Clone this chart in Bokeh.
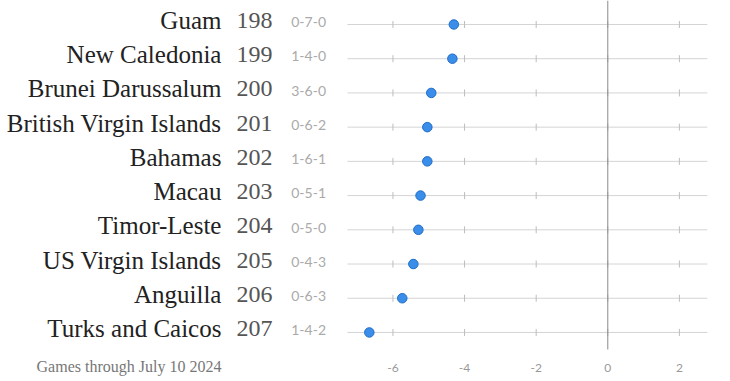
from bokeh.plotting import figure
from bokeh.models import Range1d
from bokeh.core.properties import value
from bokeh.embed import file_html
from bokeh.resources import INLINE

names = ["Guam", "New Caledonia", "Brunei Darussalum", "British Virgin Islands",
         "Bahamas", "Macau", "Timor-Leste", "US Virgin Islands", "Anguilla",
         "Turks and Caicos"]
ranks = [198, 199, 200, 201, 202, 203, 204, 205, 206, 207]
records = ["0-7-0", "1-4-0", "3-6-0", "0-6-2", "1-6-1", "0-5-1", "0-5-0",
           "0-4-3", "0-6-3", "1-4-2"]
ratings = [-4.30, -4.34, -4.93, -5.04, -5.04, -5.23, -5.29, -5.43, -5.74, -6.66]
ticks = [-6, -4, -2, 0, 2]
tick_labels = ["-6", "-4", "-2", "0", "2"]
footer = "Games through July 10 2024"

PX_X = 35.8   # px per unit along x
PX_Y = 34.22  # px per row

rows = list(range(len(names)))
n = len(rows)

p = figure(frame_width=730, frame_height=381, output_backend="svg",
           toolbar_location=None, y_axis_location=None, x_axis_location=None,
           min_border_left=0, min_border_right=0, min_border_top=0,
           min_border_bottom=0)
p.x_range = Range1d(-16.96, 3.427)
p.y_range = Range1d(10.433, -0.701)
p.outline_line_color = None
p.xgrid.visible = False
p.ygrid.visible = False
p.background_fill_color = "white"

line_x0, line_x1 = -7.27, 2.78

# row lines
p.segment(x0=[line_x0] * n, x1=[line_x1] * n, y0=rows, y1=rows,
          line_color="#d4d4d4", line_width=1)

# small ticks on every row
tx, ty0, ty1 = [], [], []
for r in rows:
    for t in ticks:
        tx.append(t)
        ty0.append(r - 3.5 / PX_Y)
        ty1.append(r + 3.5 / PX_Y)
p.segment(x0=tx, x1=tx, y0=ty0, y1=ty1, line_color="#bdbdbd", line_width=1)

# zero line
p.segment(x0=[0], x1=[0], y0=[-0.701], y1=[rows[-1] + 17 / PX_Y],
          line_color="#8a8a8a", line_width=1)

# dots
p.scatter(x=ratings, y=rows, size=9.5, fill_color="#3a8ee9",
          line_color="#1f6cc8", line_width=1)

name_x = -10.79
rank_x = -10.37
rec_x = -8.84

p.text(x=[name_x] * n, y=[r - 4.0 / PX_Y for r in rows], text=names,
       text_align="right", text_baseline="middle",
       text_font=value("Liberation Serif"), text_font_size="25px",
       text_color="#222222")
p.text(x=[rank_x] * n, y=[r - 4.0 / PX_Y for r in rows],
       text=[str(v) for v in ranks],
       text_align="left", text_baseline="middle",
       text_font=value("Liberation Serif"), text_font_size="24px",
       text_color="#555555")
p.text(x=[rec_x] * n, y=[r - 2.3 / PX_Y for r in rows], text=records,
       text_align="left", text_baseline="middle",
       text_font=value("Lato"), text_font_size="14px",
       text_color="#aaaaaa")

# x tick labels
tick_y = rows[-1] + 36 / PX_Y
p.text(x=ticks, y=[tick_y] * len(ticks), text=tick_labels,
       text_align="center", text_baseline="middle",
       text_font=value("Lato"), text_font_size="12px", text_color="#999999")

# footer
p.text(x=[name_x], y=[rows[-1] + 34.5 / PX_Y], text=[footer],
       text_align="right", text_baseline="middle",
       text_font=value("Liberation Serif"), text_font_size="16px",
       text_color="#777777")

open("out.html", "w").write(file_html(p, INLINE))
